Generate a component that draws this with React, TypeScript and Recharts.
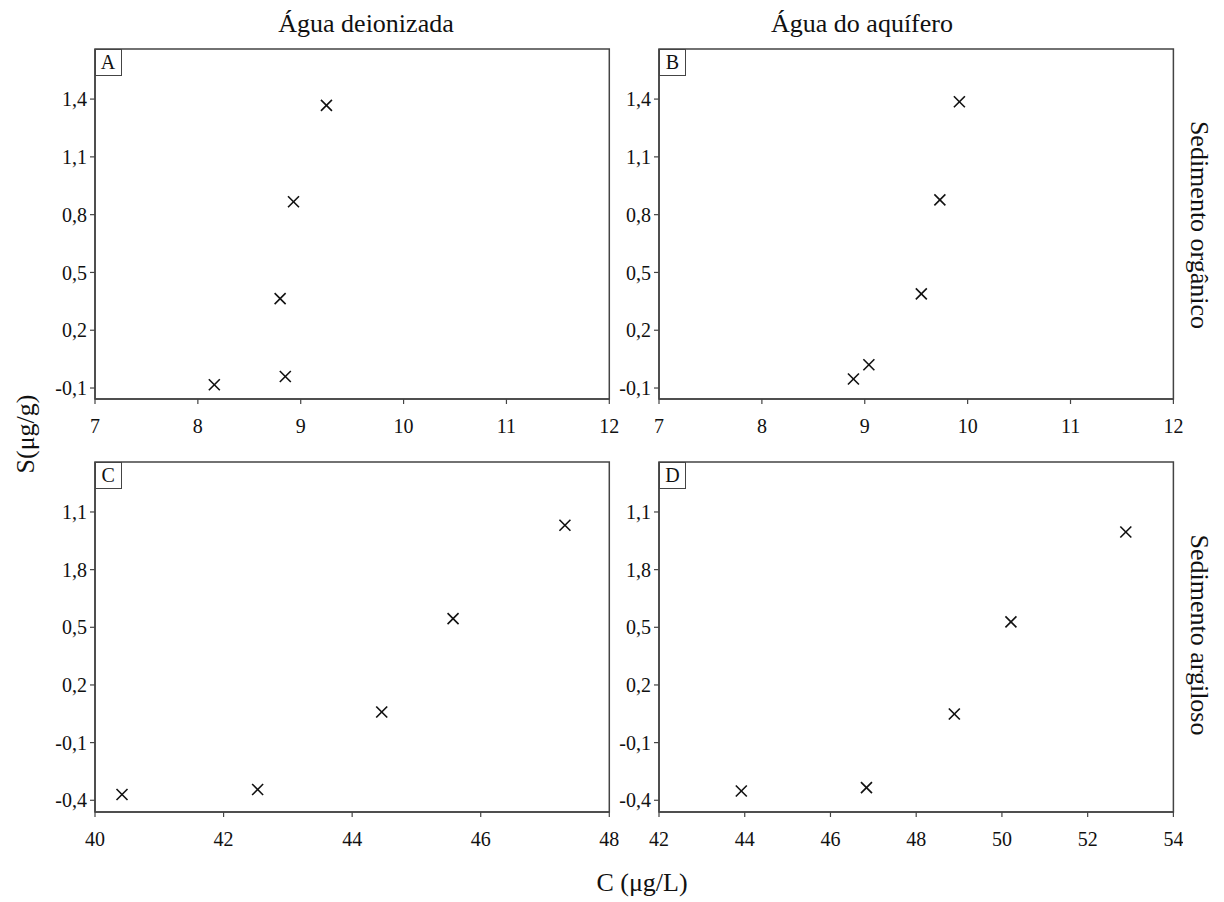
import React from "react";
import { ScatterChart, Scatter, XAxis, YAxis, ReferenceArea } from "recharts";

const FONT = "Liberation Serif, Times New Roman, serif";
const INK = "#111";
const LINE = "#444";

// Panel A – Água deionizada / Sedimento orgânico
const dataA = [
  { x: 8.16, y: -0.083 },
  { x: 8.85, y: -0.04 },
  { x: 8.8, y: 0.364 },
  { x: 8.93, y: 0.867 },
  { x: 9.25, y: 1.367 },
];
// Panel B – Água do aquífero / Sedimento orgânico
const dataB = [
  { x: 8.89, y: -0.053 },
  { x: 9.04, y: 0.021 },
  { x: 9.55, y: 0.389 },
  { x: 9.73, y: 0.877 },
  { x: 9.92, y: 1.386 },
];
// Panel C – Água deionizada / Sedimento argiloso
const dataC = [
  { x: 40.42, y: -0.37 },
  { x: 42.53, y: -0.344 },
  { x: 44.46, y: 0.059 },
  { x: 45.57, y: 0.545 },
  { x: 47.31, y: 1.031 },
];
// Panel D – Água do aquífero / Sedimento argiloso
const dataD = [
  { x: 43.92, y: -0.352 },
  { x: 46.84, y: -0.334 },
  { x: 48.89, y: 0.049 },
  { x: 50.21, y: 0.528 },
  { x: 52.89, y: 0.996 },
];

const xTicksTop = [7, 8, 9, 10, 11, 12];
const xTicksC = [40, 42, 44, 46, 48];
const xTicksD = [42, 44, 46, 48, 50, 52, 54];

const yTicksTop = [-0.1, 0.2, 0.5, 0.8, 1.1, 1.4];
const yLabelsTop = ["-0,1", "0,2", "0,5", "0,8", "1,1", "1,4"];
const yTicksBottom = [-0.4, -0.1, 0.2, 0.5, 0.8, 1.1];
const yLabelsBottom = ["-0,4", "-0,1", "0,2", "0,5", "1,8", "1,1"];

const colTitles = ["Água deionizada", "Água do aquífero"];
const rowTitles = ["Sedimento orgânico", "Sedimento argiloso"];
const yTitle = "S(μg/g)";
const xTitle = "C (μg/L)";

const Cross = (props: any) => {
  const { cx, cy } = props;
  const r = 5.5;
  return (
    <g>
      <line x1={cx - r} y1={cy - r} x2={cx + r} y2={cy + r} stroke={INK} strokeWidth={1.6} />
      <line x1={cx - r} y1={cy + r} x2={cx + r} y2={cy - r} stroke={INK} strokeWidth={1.6} />
    </g>
  );
};

type PanelProps = {
  left: number;
  top: number;
  w: number;
  h: number;
  data: { x: number; y: number }[];
  xDomain: [number, number];
  xTicks: number[];
  yDomain: [number, number];
  yTicks: number[];
  yLabels: string[];
  letter: string;
};

function Panel({ left, top, w, h, data, xDomain, xTicks, yDomain, yTicks, yLabels, letter }: PanelProps) {
  const fmtY = (v: number) => {
    const i = yTicks.findIndex((t) => Math.abs(t - v) < 1e-6);
    return i >= 0 ? yLabels[i] : String(v);
  };
  const tickStyle = { fontSize: 20, fill: INK, fontFamily: FONT, style: { fontFamily: FONT } };
  return (
    <div style={{ position: "absolute", left: left - 60, top: top - 10, fontFamily: FONT }}>
      <ScatterChart width={w + 70} height={h + 60} margin={{ top: 10, right: 10, bottom: 0, left: 0 }} style={{ fontFamily: FONT }}>
        <XAxis
          type="number"
          dataKey="x"
          domain={xDomain}
          ticks={xTicks}
          interval={0}
          allowDataOverflow
          height={50}
          tickSize={5}
          tickMargin={15}
          tick={tickStyle}
          axisLine={{ stroke: LINE, strokeWidth: 1.5 }}
          tickLine={{ stroke: LINE, strokeWidth: 1.2 }}
        />
        <YAxis
          type="number"
          dataKey="y"
          domain={yDomain}
          ticks={yTicks}
          interval={0}
          allowDataOverflow
          width={60}
          tickSize={5}
          tickMargin={3}
          tick={tickStyle}
          tickFormatter={fmtY}
          axisLine={{ stroke: LINE, strokeWidth: 1.5 }}
          tickLine={{ stroke: LINE, strokeWidth: 1.2 }}
        />
        <ReferenceArea
          x1={xDomain[0]}
          x2={xDomain[1]}
          y1={yDomain[0]}
          y2={yDomain[1]}
          fill="none"
          fillOpacity={0}
          stroke={LINE}
          strokeWidth={1.5}
          ifOverflow="visible"
        />
        <Scatter data={data} shape={<Cross />} isAnimationActive={false} />
      </ScatterChart>
      <div
        style={{
          position: "absolute",
          left: 60,
          top: 10,
          width: 27,
          height: 27,
          boxSizing: "border-box",
          border: `1.5px solid ${LINE}`,
          background: "#fff",
          fontFamily: FONT,
          fontSize: 20,
          color: INK,
          lineHeight: "25px",
          textAlign: "center",
        }}
      >
        {letter}
      </div>
    </div>
  );
}

export default function App() {
  const topY: [number, number] = [-0.157, 1.66];
  const botY: [number, number] = [-0.461, 1.36];
  return (
    <div style={{ position: "absolute", left: 0, top: 0, width: 1224, height: 902, background: "#fff", overflow: "hidden", fontFamily: FONT }}>
      <Panel left={94.6} top={49.3} w={514.3} h={350} data={dataA} xDomain={[7, 12]} xTicks={xTicksTop} yDomain={topY} yTicks={yTicksTop} yLabels={yLabelsTop} letter="A" />
      <Panel left={659} top={49.3} w={514.4} h={350} data={dataB} xDomain={[7, 12]} xTicks={xTicksTop} yDomain={topY} yTicks={yTicksTop} yLabels={yLabelsTop} letter="B" />
      <Panel left={94.6} top={461.7} w={514.3} h={350} data={dataC} xDomain={[40, 48]} xTicks={xTicksC} yDomain={botY} yTicks={yTicksBottom} yLabels={yLabelsBottom} letter="C" />
      <Panel left={659} top={461.7} w={514.4} h={350} data={dataD} xDomain={[42, 54]} xTicks={xTicksD} yDomain={botY} yTicks={yTicksBottom} yLabels={yLabelsBottom} letter="D" />
      <svg width={1224} height={902} style={{ position: "absolute", left: 0, top: 0, pointerEvents: "none", fontFamily: FONT }}>
        <g fontSize={26} fill={INK}>
          <text x={366} y={32} textAnchor="middle">{colTitles[0]}</text>
          <text x={862} y={32} textAnchor="middle">{colTitles[1]}</text>
          <text x={1199} y={225} textAnchor="middle" dominantBaseline="central" transform="rotate(90 1199 225)">{rowTitles[0]}</text>
          <text x={1199} y={635} textAnchor="middle" dominantBaseline="central" transform="rotate(90 1199 635)">{rowTitles[1]}</text>
          <text x={25} y={434} textAnchor="middle" dominantBaseline="central" transform="rotate(-90 25 434)">{yTitle}</text>
          <text x={642} y={891} textAnchor="middle">{xTitle}</text>
        </g>
      </svg>
    </div>
  );
}
